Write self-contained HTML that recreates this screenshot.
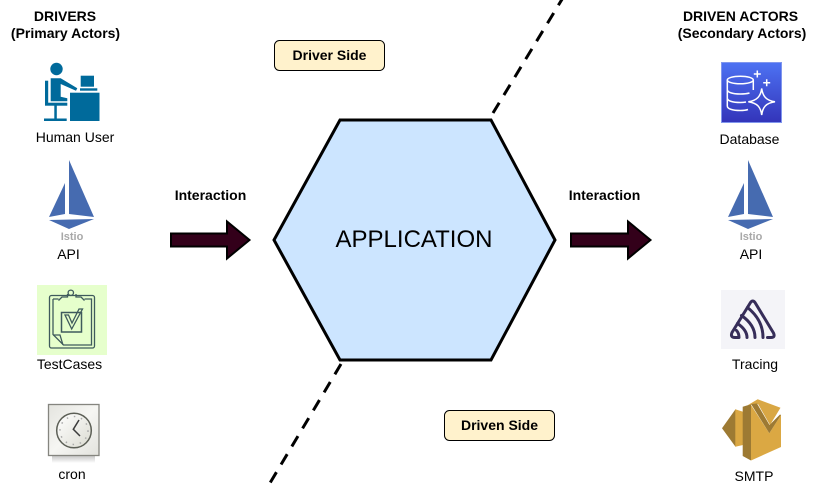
<!DOCTYPE html>
<html><head><meta charset="utf-8"><style>
html,body{margin:0;padding:0;background:#fff}
svg{display:block}
text{font-family:"Liberation Sans",Arial,sans-serif;fill:#000;text-anchor:middle}
.b{font-weight:bold;font-size:14px}
.l{font-size:14px}
.i{font-size:11px;font-weight:bold;fill:#a8a8a8}
</style></head><body>
<svg width="821" height="492" viewBox="0 0 821 492" xmlns="http://www.w3.org/2000/svg">
<defs>
<linearGradient id="db" x1="0" y1="0" x2="0" y2="1"><stop offset="0" stop-color="#4d72f3"/><stop offset="1" stop-color="#3334b9"/></linearGradient>
<linearGradient id="cl" x1="0" y1="0" x2="1" y2="1"><stop offset="0" stop-color="#e4e4df"/><stop offset=".5" stop-color="#f6f6f3"/><stop offset="1" stop-color="#e2e2dd"/></linearGradient>
<linearGradient id="cf" x1="0" y1="0" x2="1" y2="1"><stop offset="0" stop-color="#ffffff"/><stop offset="1" stop-color="#dcdcd2"/></linearGradient>
<linearGradient id="sh" x1="0" y1="0" x2="0" y2="1"><stop offset="0" stop-color="#c8c8c8"/><stop offset="1" stop-color="#fff"/></linearGradient>
<g id="sail">
<polygon points="69,160 94,217 69,214" fill="#466bb0"/>
<polygon points="65,183 65,214 49,217" fill="#466bb0"/>
<polygon points="49,220 94,219 69,229" fill="#466bb0"/>
</g>
</defs>

<!-- dashed dividers -->
<line x1="493" y1="113" x2="564" y2="-4" stroke="#000" stroke-width="3" stroke-dasharray="12 9"/>
<line x1="341" y1="364" x2="270" y2="483" stroke="#000" stroke-width="3" stroke-dasharray="12 9"/>

<!-- hexagon -->
<polygon points="340,120 491,120 555,240 491,360 340,360 274,240" fill="#cce5ff" stroke="#000" stroke-width="3"/>
<text x="414" y="247" style="font-size:24px">APPLICATION</text>

<!-- side labels -->
<rect x="274.500" y="40.500" width="110" height="30" rx="5" fill="#fff2cc" stroke="#000"/>
<text class="b" x="329.500" y="60">Driver Side</text>
<rect x="444.500" y="410.500" width="110" height="30" rx="5" fill="#fff2cc" stroke="#000"/>
<text class="b" x="499.500" y="430">Driven Side</text>

<!-- arrows -->
<polygon points="171,233.500 227,233.500 227,221.500 249.500,240 227,258.500 227,246.500 171,246.500" fill="#33001a" stroke="#000" stroke-width="2"/>
<polygon points="571,233.500 628,233.500 628,221.500 650.500,240 628,258.500 628,246.500 571,246.500" fill="#33001a" stroke="#000" stroke-width="2"/>
<text class="b" x="210.500" y="200">Interaction</text>
<text class="b" x="604.500" y="200">Interaction</text>

<!-- left headers -->
<text class="b" x="65" y="21">DRIVERS</text>
<text class="b" x="65.500" y="38">(Primary Actors)</text>

<!-- human user -->
<g fill="#006a9b">
<circle cx="56.500" cy="69" r="6.200"/>
<rect x="70" y="92.700" width="29.500" height="28.300"/>
<rect x="80.700" y="75.700" width="13.300" height="11"/>
<rect x="80" y="88.300" width="17.300" height="2.400"/>
<polygon points="50.700,78.300 60.700,78.300 77.300,88.300 76,90.700 60.700,84 60.700,96.700 67.300,98.300 67.300,101.300 50.700,101.300"/>
<rect x="45" y="80.700" width="3.200" height="24"/>
<rect x="45" y="102.700" width="22.300" height="3"/>
<rect x="54.300" y="105" width="2.500" height="14"/>
<rect x="44" y="118.500" width="22.700" height="2.500"/>
</g>
<text class="l" x="75" y="142">Human User</text>

<!-- API left -->
<use href="#sail"/>
<text class="i" x="72" y="240">Istio</text>
<text class="l" x="68.500" y="259">API</text>

<!-- TestCases -->
<rect x="37" y="285" width="70" height="70" fill="#e6ffcc"/>
<g fill="none" stroke="#3f5a5c" stroke-width="1.300">
<rect x="49.500" y="295.500" width="45" height="52.500" rx="2"/>
<path d="M58.500,300.500L62,297H67.500V294M76,294V297H81L84.500,300.500" />
<path d="M53,299H58.500M84.500,299H91.500V345H63.500L53,334.500V299"/>
<circle cx="70.800" cy="292.800" r="2.700"/>
<path d="M53,335H60L63,345"/>
<rect x="61.500" y="312.500" width="20" height="19.500" stroke-width="1.500"/>
<path d="M65,315H68.500L72,323L79,309H82.500L71.700,329Z"/>
</g>
<text class="l" x="69.500" y="369">TestCases</text>

<!-- cron -->
<rect x="52" y="456" width="43" height="7" fill="url(#sh)"/>
<rect x="48.500" y="404.500" width="50.500" height="51" fill="url(#cl)" stroke="#85857f" stroke-width="1.300"/>
<circle cx="74" cy="430.500" r="17.300" fill="url(#cf)" stroke="#5c5f56" stroke-width="1.500"/>
<circle cx="74" cy="430.500" r="14" fill="none" stroke="#aaa" stroke-width="1.500" stroke-dasharray="1.500 5.800"/>
<path d="M79,420L73.300,429.300L80,436" fill="none" stroke="#3c3c3c" stroke-width="1.500"/>
<text class="l" x="72" y="479">cron</text>

<!-- right headers -->
<text class="b" x="740.500" y="21">DRIVEN ACTORS</text>
<text class="b" x="742" y="38">(Secondary Actors)</text>

<!-- database -->
<rect x="721.500" y="62.500" width="60" height="60" fill="url(#db)" stroke="#8096ee"/>
<g fill="none" stroke="#fff" stroke-width="1.500">
<ellipse cx="740.300" cy="80" rx="13" ry="3.800"/>
<path d="M727.300,80V106C727.300,109 733,110.500 740.300,110.500C743,110.500 746,110.200 748,109.500M753.300,80V90M727.300,89.500C727.300,92.500 733,94 740.300,94C744,94 747,93.700 749.500,93M727.300,98C727.300,101 733,102.500 740.300,102.500C742,102.500 744,102.400 746,102"/>
<path d="M761.700,88.500C762.700,96 766,100.500 775,101.700C766,103 762.700,107 761.700,115C760.700,107 757.300,103 748.300,101.700C757.300,100.500 760.700,96 761.700,88.500Z"/>
<path d="M757.300,70.500V77.500M753.800,74H760.800M766.700,79.200V86.200M763.200,82.700H770.200"/>
</g>
<text class="l" x="749.500" y="144">Database</text>

<!-- API right -->
<use href="#sail" x="679"/>
<text class="i" x="751" y="240">Istio</text>
<text class="l" x="751" y="259">API</text>

<!-- Tracing -->
<rect x="721" y="290" width="64" height="59" fill="#f4f4f8"/>
<g fill="none" stroke="#362d59" stroke-width="3" stroke-linecap="round" stroke-linejoin="round">
<path d="M767.500,337.500H771Q775.500,337.500 773.500,333L755,302.500Q752.700,299.500 750.500,302.500L732,332.500Q730,337.500 735,337.500H739Q739,333 736.500,330.500"/>
<path d="M763,337.500Q763,320 747.500,307.500"/>
<path d="M755,337.500Q755,325 741.500,315.500"/>
<path d="M747,337.500Q747,330 737.500,323.500"/>
</g>
<text class="l" x="755" y="369">Tracing</text>

<!-- SMTP -->
<polygon points="722,428.300 735.500,409.300 735.500,446.700" fill="#9d7a33"/>
<polygon points="735.300,409.300 743,411.700 743,445 735.300,446.700" fill="#dba843"/>
<polygon points="742.700,406.700 751,404.300 751,460.500 742.700,456" fill="#9d7a33"/>
<polygon points="751,460.500 781,447 781,415 769.300,433.300 751,405" fill="#dba843"/>
<polygon points="748,405 757.700,399.300 780.500,407.700 770,425 758,404" fill="#d9a744"/>
<polygon points="751,404 757,403.500 769.500,425 780,414.500 781,415 769.300,433.300" fill="#9d7a33"/>
<text class="l" x="754" y="481">SMTP</text>
</svg>
</body></html>
